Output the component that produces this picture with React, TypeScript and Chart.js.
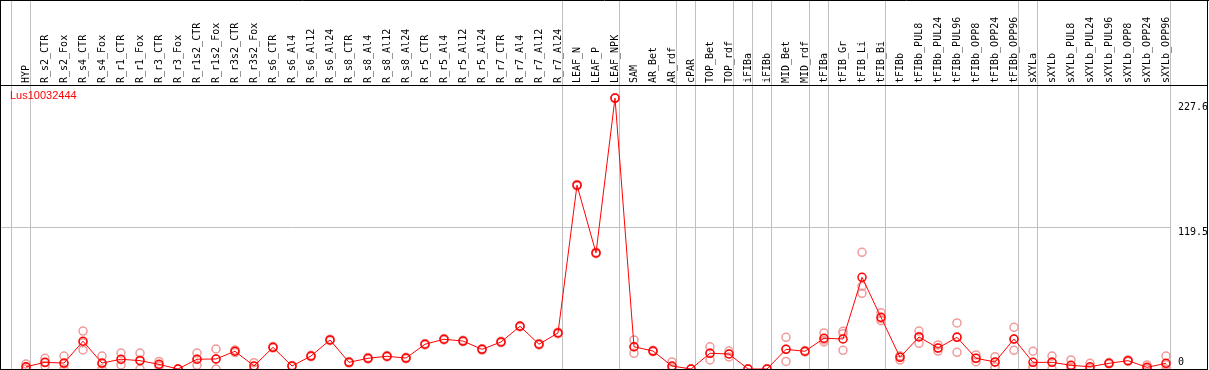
import React, { useEffect, useRef } from "react";
import { Chart, registerables } from "chart.js";

Chart.register(...registerables);

const title = "Lus10032444";

const categories = [
  "HYP", "R_s2_CTR", "R_s2_Fox", "R_s4_CTR", "R_s4_Fox", "R_r1_CTR", "R_r1_Fox", "R_r3_CTR", "R_r3_Fox",
  "R_r1s2_CTR", "R_r1s2_Fox", "R_r3s2_CTR", "R_r3s2_Fox", "R_s6_CTR", "R_s6_Al4", "R_s6_Al12", "R_s6_Al24",
  "R_s8_CTR", "R_s8_Al4", "R_s8_Al12", "R_s8_Al24", "R_r5_CTR", "R_r5_Al4", "R_r5_Al12", "R_r5_Al24",
  "R_r7_CTR", "R_r7_Al4", "R_r7_Al12", "R_r7_Al24", "LEAF_N", "LEAF_P", "LEAF_NPK", "SAM", "AR_Bet", "AR_rdf",
  "cPAR", "TOP_Bet", "TOP_rdf", "iFIBa", "iFIBb", "MID_Bet", "MID_rdf", "tFIBa", "tFIB_Gr", "tFIB_Li", "tFIB_Bi",
  "tFIBb", "tFIBb_PUL8", "tFIBb_PUL24", "tFIBb_PUL96", "tFIBb_OPP8", "tFIBb_OPP24", "tFIBb_OPP96",
  "sXYLa", "sXYLb", "sXYLb_PUL8", "sXYLb_PUL24", "sXYLb_PUL96", "sXYLb_OPP8", "sXYLb_OPP24", "sXYLb_OPP96",
];

const meanValues = [
  1.9, 5.6, 5.0, 23.3, 5.0, 8.2, 7.0, 3.9, 0,
  8.2, 8.4, 14.9, 2.5, 18.2, 2.5, 10.9, 24.4,
  5.6, 9.0, 10.7, 9.2, 20.8, 25.0, 23.5, 16.5,
  22.7, 35.9, 20.8, 30.3, 154.4, 97.5, 227.6, 18.7, 15.1, 2.5,
  0, 13.2, 12.6, 0, 0, 16.5, 14.9, 25.8, 25.2, 77.0, 43.4,
  9.8, 26.9, 17.6, 26.6, 9.0, 5.9, 25.2,
  5.6, 5.6, 3.1, 1.9, 4.8, 7.0, 1.4, 4.8,
];

const replicate1 = [
  4.2, 9.0, 10.9, 31.9, 10.9, 13.4, 13.4, 6.4, 0,
  13.4, 16.8, 16.0, 5.3, 18.8, 3.0, 11.5, 25.0,
  6.2, 9.6, 11.3, 9.8, 21.4, 25.6, 24.1, 17.1,
  23.3, 36.5, 21.4, 30.9, 155.0, 98.1, 227.6, 24.4, 15.7, 5.9,
  0, 18.7, 15.1, 0, 0, 26.6, 15.5, 30.3, 31.7, 98.0, 47.3,
  11.0, 31.9, 20.2, 38.7, 11.8, 10.3, 35.0,
  14.9, 10.9, 7.6, 4.8, 5.4, 7.6, 3.4, 10.9,
];

const replicate2 = [
  0, 2.5, 0, 16.0, 0, 3.4, 0, 2.5, 0,
  3.1, 0, 13.8, 0, 17.6, 2.0, 10.3, 23.8,
  5.0, 8.4, 10.1, 8.6, 20.2, 24.4, 22.9, 15.9,
  22.1, 35.3, 20.2, 29.7, 153.8, 96.9, 227.6, 13.2, 14.5, 0,
  0, 7.6, 10.1, 0, 0, 6.4, 14.3, 22.7, 15.7, 63.6, 40.6,
  7.6, 21.6, 15.1, 14.0, 6.1, 1.9, 15.7,
  0, 0, 0, 0.5, 4.2, 6.4, 0, 0,
];

const replicate3 = [
  1.5, 5.3, 4.1, 22.0, 4.1, 7.8, 7.6, 2.8, 0,
  8.1, 8.4, 14.9, 2.2, 18.2, 2.5, 10.9, 24.4,
  5.6, 9.0, 10.7, 9.2, 20.8, 25.0, 23.5, 16.5,
  22.7, 35.9, 20.8, 30.3, 154.4, 97.5, 227.6, 18.5, 15.1, 1.6,
  0, 13.3, 12.6, 0, 0, 16.5, 14.9, 24.4, 29.7, 69.4, 42.3,
  10.8, 27.2, 17.5, 27.1, 9.1, 5.5, 24.9,
  1.9, 5.9, 1.7, 0.4, 4.8, 7.0, 0.8, 3.5,
];

const yTickValues = [227.6, 119.5, 0];
const yTickLabels = ["227.6", "119.5", "0"];
const yTickLabelShift = [9, 5.5, -7];
const gridValue = 119.5;
// index of the last category in each group; a separator follows it
const groupEnds = [-1, 0, 28, 31, 34, 35, 37, 38, 39, 41, 42, 45, 52, 53, 60];

const MONO = '10px "DejaVu Sans Mono", monospace';

const framePlugin = {
  id: "frame",
  beforeDatasetsDraw(chart: any) {
    const ctx = chart.ctx;
    const xs = chart.scales.x;
    const ys = chart.scales.y;
    ctx.save();
    ctx.strokeStyle = "#c0c0c0";
    ctx.lineWidth = 1;
    let lastSep = 0;
    groupEnds.forEach((i) => {
      const px = Math.floor(xs.getPixelForValue(i) + 4.5) + 0.5;
      lastSep = px;
      ctx.beginPath();
      ctx.moveTo(px, 0);
      ctx.lineTo(px, 370);
      ctx.stroke();
    });
    const gy = Math.round(ys.getPixelForValue(gridValue)) + 0.5;
    ctx.beginPath();
    ctx.moveTo(0, gy);
    ctx.lineTo(lastSep, gy);
    ctx.stroke();
    ctx.restore();
  },
  afterDraw(chart: any) {
    const ctx = chart.ctx;
    const xs = chart.scales.x;
    const ys = chart.scales.y;
    const W = chart.width;
    ctx.save();
    ctx.fillStyle = "#000";
    ctx.font = MONO;
    ctx.textAlign = "left";
    ctx.textBaseline = "middle";
    categories.forEach((c, i) => {
      const px = xs.getPixelForValue(i);
      ctx.save();
      ctx.translate(px, 83);
      ctx.rotate(-Math.PI / 2);
      ctx.fillText(c, 0, 0);
      ctx.restore();
    });
    yTickValues.forEach((v, k) => {
      const py = ys.getPixelForValue(v) + yTickLabelShift[k];
      ctx.fillText(yTickLabels[k], chart.chartArea.right + 12, py);
    });
    ctx.fillStyle = "#ff0000";
    ctx.font = '11px "Liberation Sans", Arial, sans-serif';
    ctx.fillText(title, 10, 96);
    ctx.strokeStyle = "#000";
    ctx.lineWidth = 1;
    ctx.beginPath();
    ctx.moveTo(0, 0.5);
    ctx.lineTo(W, 0.5);
    ctx.moveTo(0.5, 0);
    ctx.lineTo(0.5, 370);
    ctx.moveTo(0, 369.5);
    ctx.lineTo(1208, 369.5);
    ctx.moveTo(1207.5, 0);
    ctx.lineTo(1207.5, 370);
    ctx.moveTo(0, 85.5);
    ctx.lineTo(1208, 85.5);
    ctx.stroke();
    ctx.restore();
  },
};

export default function App() {
  const ref = useRef<HTMLCanvasElement | null>(null);

  useEffect(() => {
    document.body.style.margin = "0";
    if (!ref.current) return;
    const repStyle = {
      showLine: false,
      pointRadius: 4,
      pointBorderWidth: 1.5,
      pointBorderColor: "#f09a9a",
      pointBackgroundColor: "rgba(0,0,0,0)",
      borderColor: "#f09a9a",
      clip: false as const,
    };
    const chart = new Chart(ref.current, {
      type: "line",
      data: {
        labels: categories,
        datasets: [
          {
            label: title,
            data: meanValues,
            borderColor: "#ff0000",
            borderWidth: 1,
            pointRadius: 4,
            pointBorderWidth: 1.5,
            pointBorderColor: "#ff0000",
            pointBackgroundColor: "rgba(0,0,0,0)",
            tension: 0,
            clip: false as const,
          },
          { label: "rep1", data: replicate1, ...repStyle },
          { label: "rep2", data: replicate2, ...repStyle },
          { label: "rep3", data: replicate3, ...repStyle },
        ],
      },
      options: {
        responsive: false,
        animation: false,
        devicePixelRatio: 1,
        layout: { autoPadding: false, padding: { left: 26, right: 43, top: 86, bottom: 1 } },
        plugins: { legend: { display: false }, tooltip: { enabled: false } },
        scales: {
          x: { type: "category", display: false, offset: false },
          y: { type: "linear", display: false, min: 0, max: 237.7 },
        },
      },
      plugins: [framePlugin],
    });
    return () => chart.destroy();
  }, []);

  return (
    <div style={{ width: 1209, height: 370 }}>
      <canvas ref={ref} width={1209} height={370} />
    </div>
  );
}
